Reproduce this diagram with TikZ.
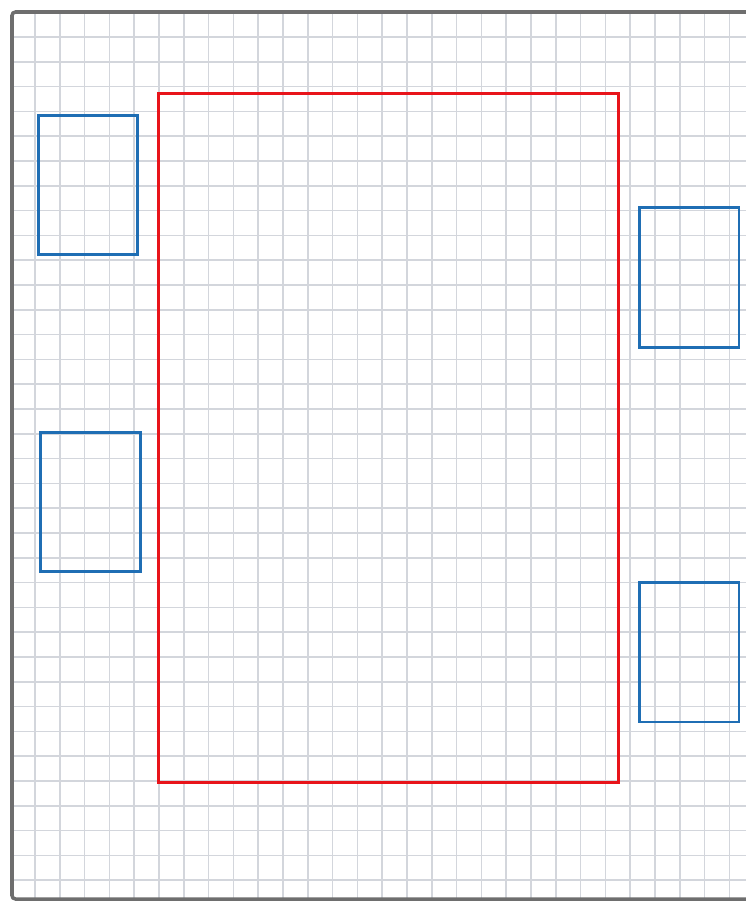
\documentclass[tikz,border=0pt]{standalone}
\usepackage{tikz}
\usetikzlibrary{positioning}
\definecolor{GridGray}{HTML}{D3D6DC}
\definecolor{FrameGray}{HTML}{6E6E6E}
\definecolor{SeatBlue}{HTML}{1F6EB4}
\definecolor{TableRed}{HTML}{E8141A}
\tikzset{
  gridline/.style={GridGray, line width=1pt},
  seat/.style={draw=SeatBlue, line width=1.7pt, inner sep=0pt, minimum width=2cm, minimum height=2.8cm},
  tablebox/.style={draw=TableRed, line width=1.7pt, inner sep=0pt, minimum width=9.22cm, minimum height=13.8cm}
}
\begin{document}
\begin{tikzpicture}[x=0.02cm, y=-0.02cm]
  \useasboundingbox (0,0) rectangle (746,902);
  \clip (0,0) rectangle (746,902);
  % squared paper
  \foreach \i in {0,...,28}
    \draw[gridline] ({35+24.8*\i},12) -- ({35+24.8*\i},899);
  \foreach \j in {0,...,34}
    \draw[gridline] (12,{37+24.8*\j}) -- (760,{37+24.8*\j});
  \draw[FrameGray, line width=2pt, rounded corners=2pt] (770,12) -- (12,12) -- (12,899) -- (770,899);
  % table and seats
  \node[tablebox] (table) at (388.5,438) {};
  \node[seat] (seatLa) at (88,185) {};
  \node[seat] (seatLb) at (90.5,502) {};
  \node[seat] (seatRa) at (689,277.5) {};
  \node[seat] (seatRb) at (689,652) {};
\end{tikzpicture}
\end{document}
